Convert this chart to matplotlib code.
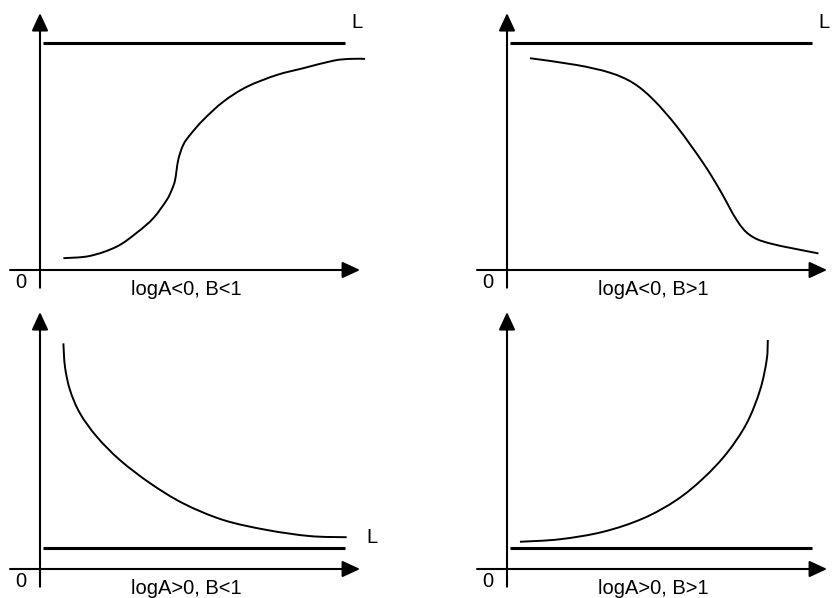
import matplotlib
matplotlib.use("Agg")
import matplotlib.pyplot as plt
from matplotlib.path import Path
from matplotlib.patches import PathPatch

plt.rcParams['font.family'] = ['Liberation Sans', 'DejaVu Sans']

# ---- data (units: distance origin -> upper asymptote L = 10) ----
labels = ["logA<0, B<1", "logA<0, B>1", "logA>0, B<1", "logA>0, B>1"]
L_levels = [10.0, 10.0, 0.93, 0.93]

c1_x = [1.03, 2.20, 3.38, 4.26, 4.99, 5.58, 5.80, 5.95, 6.09, 6.31, 6.61, 7.19,
        8.07, 9.11, 10.43, 11.60, 12.92, 13.66, 14.32]
c1_y = [0.52, 0.62, 1.03, 1.64, 2.28, 3.08, 3.52, 3.96, 4.85, 5.51, 5.95, 6.61,
        7.41, 8.07, 8.59, 8.89, 9.22, 9.30, 9.30]

c2_x = [1.01, 3.07, 4.54, 5.57, 6.46, 7.49, 8.65, 9.38, 10.12, 10.70, 11.59, 13.72]
c2_y = [9.33, 9.03, 8.69, 8.23, 7.49, 6.31, 4.70, 3.52, 2.20, 1.54, 1.17, 0.73]

c3_x = [1.03, 1.10, 1.32, 1.76, 2.50, 3.52, 4.85, 6.31, 8.07, 9.99, 11.89, 13.51]
c3_y = [9.94, 8.91, 7.89, 6.86, 5.83, 4.80, 3.78, 2.89, 2.16, 1.72, 1.45, 1.40]

c4_x = [0.57, 2.33, 4.24, 6.00, 7.47, 8.64, 9.68, 10.56, 11.15, 11.44, 11.49]
c4_y = [1.20, 1.31, 1.64, 2.23, 3.04, 3.99, 5.10, 6.42, 7.89, 9.21, 10.09]

curves = [(c1_x, c1_y), (c2_x, c2_y), (c3_x, c3_y), (c4_x, c4_y)]

# ---- layout ----
W, H = 834, 598
S = 22.7  # pixels per data unit
origins = [(40, 270), (507, 270), (40, 569), (507, 569)]
PW, PH = 417, 299
OFF_X, OFF_Y = 40, 270


def smooth_path(xs, ys):
    """Bezier path through the points (Catmull-Rom tangents)."""
    pts = list(zip(xs, ys))
    n = len(pts)
    verts = [pts[0]]
    codes = [Path.MOVETO]
    for k in range(n - 1):
        p0 = pts[k - 1] if k > 0 else pts[k]
        p1 = pts[k]
        p2 = pts[k + 1]
        p3 = pts[k + 2] if k + 2 < n else pts[k + 1]
        c1 = (p1[0] + (p2[0] - p0[0]) / 6.0, p1[1] + (p2[1] - p0[1]) / 6.0)
        c2 = (p2[0] - (p3[0] - p1[0]) / 6.0, p2[1] - (p3[1] - p1[1]) / 6.0)
        verts += [c1, c2, p2]
        codes += [Path.CURVE4] * 3
    return Path(verts, codes)


fig = plt.figure(figsize=(W / 100, H / 100), dpi=100)
fig.patch.set_facecolor('white')

for i, (ox, oy) in enumerate(origins):
    left_px = ox - OFF_X
    top_px = oy - OFF_Y
    ax = fig.add_axes([left_px / W, (H - top_px - PH) / H, PW / W, PH / H])
    ax.set_xlim(-OFF_X / S, (PW - OFF_X) / S)
    ax.set_ylim(-(PH - OFF_Y) / S, OFF_Y / S)
    ax.axis('off')

    arrow = dict(arrowstyle='-|>,head_length=0.54,head_width=0.25',
                 mutation_scale=20, lw=1.5, color='black',
                 shrinkA=0, shrinkB=0)
    # x axis
    ax.annotate('', xy=(14.1, 0), xytext=(-1.32, 0), arrowprops=arrow,
                annotation_clip=False)
    # y axis
    ax.annotate('', xy=(0, 11.32), xytext=(0, -0.78), arrowprops=arrow,
                annotation_clip=False)

    # asymptote L
    lvl = L_levels[i]
    ax.plot([0.13, 13.44], [lvl, lvl], color='black', lw=2.2,
            solid_capstyle='butt')

    # curve
    cx, cy = curves[i]
    ax.add_patch(PathPatch(smooth_path(cx, cy), facecolor='none',
                           edgecolor='black', lw=1.4, capstyle='butt',
                           joinstyle='round'))

    # texts
    if i < 2:
        ax.text(13.7, 10.67, 'L', fontsize=14.5, ha='left', va='baseline')
    else:
        ax.text(14.36, 1.15, 'L', fontsize=14.5, ha='left', va='baseline',
                clip_on=False)
    ax.text(6.45, -1.08, labels[i], fontsize=14.5, ha='center', va='baseline')
    ax.text(-0.84, -0.79, '0', fontsize=14.5, ha='center', va='baseline')

fig.savefig('out.png', dpi=100, facecolor='white')
